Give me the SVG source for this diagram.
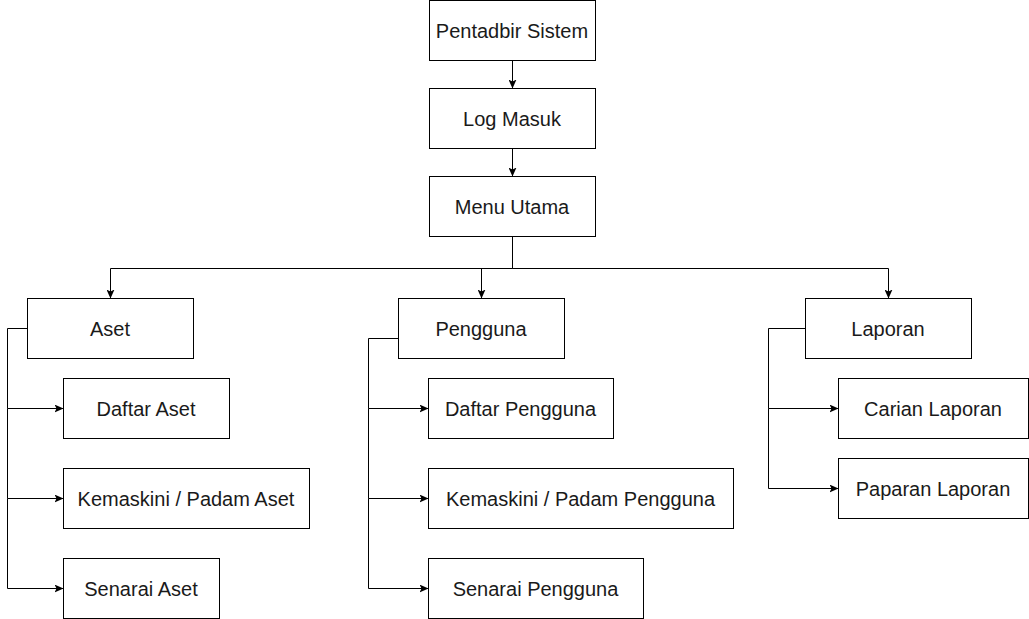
<svg xmlns="http://www.w3.org/2000/svg" width="1029" height="619" viewBox="0 0 1029 619">
<style>
.box{fill:#ffffff;stroke:#000000;stroke-width:1}
.lbl{font-family:"Liberation Sans",Arial,sans-serif;font-size:20px;fill:#1a1a1a;text-anchor:middle;dominant-baseline:central}
.con{fill:none;stroke:#000000;stroke-width:1;marker-end:url(#arr)}
</style>
<defs>
<marker id="arr" viewBox="0 0 10 8" refX="9" refY="4" markerWidth="10" markerHeight="8" markerUnits="userSpaceOnUse" orient="auto">
<path d="M0,0 L9,4 L0,8 L2,4 Z" fill="#000000"/>
</marker>
</defs>
<rect width="1029" height="619" fill="#ffffff"/>
<g id="connectors">
<path class="con" d="M512.5,60.5 V88.5"/>
<path class="con" d="M512.5,148.5 V176.5"/>
<path class="con" d="M512.5,236.5 V268.5 H110.5 V298.5"/>
<path class="con" d="M512.5,268.5 H481.5 V298.5"/>
<path class="con" d="M512.5,268.5 H888.5 V298.5"/>
<path class="con" d="M27.5,328.5 H7.5 V408.5 H63.5"/>
<path class="con" d="M7.5,408.5 V498.5 H63.5"/>
<path class="con" d="M7.5,498.5 V588.5 H63.5"/>
<path class="con" d="M398.5,338.5 H368.5 V408.5 H428.5"/>
<path class="con" d="M368.5,408.5 V498.5 H428.5"/>
<path class="con" d="M368.5,498.5 V588.5 H428.5"/>
<path class="con" d="M805.5,328.5 H768.5 V408.5 H838.5"/>
<path class="con" d="M768.5,408.5 V488.5 H838.5"/>
</g>
<g id="pentadbir"><rect class="box" x="429.5" y="0.5" width="166" height="60"/><text class="lbl" x="512" y="30.5">Pentadbir Sistem</text></g>
<g id="logmasuk"><rect class="box" x="429.5" y="88.5" width="166" height="60"/><text class="lbl" x="512" y="118.5">Log Masuk</text></g>
<g id="menuutama"><rect class="box" x="429.5" y="176.5" width="166" height="60"/><text class="lbl" x="512" y="206.5">Menu Utama</text></g>
<g id="aset"><rect class="box" x="27.5" y="298.5" width="166" height="60"/><text class="lbl" x="110" y="328.5">Aset</text></g>
<g id="daftaraset"><rect class="box" x="63.5" y="378.5" width="166" height="60"/><text class="lbl" x="146" y="408.5">Daftar Aset</text></g>
<g id="kemaskiniaset"><rect class="box" x="63.5" y="468.5" width="246" height="60"/><text class="lbl" x="186" y="498.5">Kemaskini / Padam Aset</text></g>
<g id="senaraiaset"><rect class="box" x="63.5" y="558.5" width="156" height="60"/><text class="lbl" x="141" y="588.5">Senarai Aset</text></g>
<g id="pengguna"><rect class="box" x="398.5" y="298.5" width="166" height="60"/><text class="lbl" x="481" y="328.5">Pengguna</text></g>
<g id="daftarpengguna"><rect class="box" x="428.5" y="378.5" width="185" height="60"/><text class="lbl" x="520.5" y="408.5">Daftar Pengguna</text></g>
<g id="kemaskinipengguna"><rect class="box" x="428.5" y="468.5" width="305" height="60"/><text class="lbl" x="580.5" y="498.5">Kemaskini / Padam Pengguna</text></g>
<g id="senaraipengguna"><rect class="box" x="428.5" y="558.5" width="215" height="60"/><text class="lbl" x="535.5" y="588.5">Senarai Pengguna</text></g>
<g id="laporan"><rect class="box" x="805.5" y="298.5" width="166" height="60"/><text class="lbl" x="888" y="328.5">Laporan</text></g>
<g id="carianlaporan"><rect class="box" x="838.5" y="378.5" width="190" height="60"/><text class="lbl" x="933" y="408.5">Carian Laporan</text></g>
<g id="paparanlaporan"><rect class="box" x="838.5" y="458.5" width="190" height="60"/><text class="lbl" x="933" y="488.5">Paparan Laporan</text></g>
</svg>
